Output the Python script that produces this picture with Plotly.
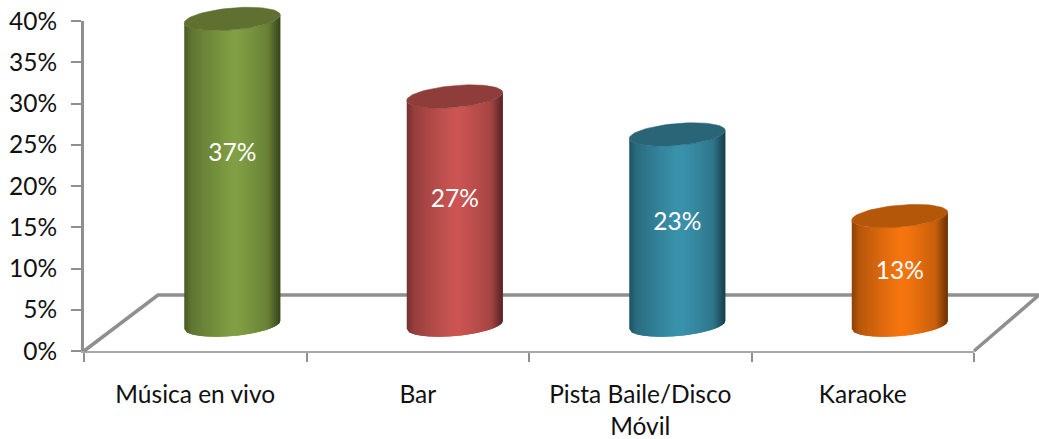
import numpy as np
import plotly.graph_objects as go

# --- data ---
categories = ["Música en vivo", "Bar", "Pista Baile/Disco<br>Móvil", "Karaoke"]
heights = [37.1, 27.7, 23.1, 13.2]
labels = ["37%", "27%", "23%", "13%"]
y_ticks = [0, 5, 10, 15, 20, 25, 30, 35, 40]
colors = [(130, 160, 68), (205, 86, 84), (58, 147, 173), (248, 118, 15)]
top_colors = ["#5f7030", "#8e3d3b", "#2a6577", "#b55708"]

# --- projection of the pseudo 3D look, in axis units ---
W, H = 1039, 439
L, R, T, B = 84, 974, 21, 351
PX_X = (R - L) / 4
PX_Y = (B - T) / 40
DEPTH_X = 37 / PX_X
BASE_Y = 3.15
RADIUS = 48 / PX_X
SEMI = 11 / PX_Y
TILT = 4 / PX_Y
FLOOR_Y = 56 / PX_Y
FLOOR_L = 74 / PX_X
FLOOR_R = 65 / PX_X
STRIPS = 48
GRAY = "#8f8f8f"
FONT = 24.5

fig = go.Figure()

# main axes, with one invisible trace so that they are drawn
fig.add_trace(go.Scatter(x=[0], y=[0], mode="none", hoverinfo="skip", showlegend=False))

OV = dict(xaxis="x2", yaxis="y2", hoverinfo="skip", showlegend=False)

# floor
fig.add_trace(go.Scatter(
    x=[-0.5, -0.5 + FLOOR_L, 3.5 + FLOOR_R, 3.5], y=[0, FLOOR_Y, FLOOR_Y, 0],
    mode="lines", line=dict(color=GRAY, width=3.5), **OV))


def shade(rgb, u):
    d = abs(u - 0.05)
    f = 1 - 0.30 * d ** 1.2
    if u > 0.75:
        f -= 0.30 * (u - 0.75) / 0.25
    if u < -0.85:
        f -= 0.12 * (-u - 0.85) / 0.15
    return "rgb(%d,%d,%d)" % tuple(int(c * f) for c in rgb)


edges = np.linspace(-1, 1, STRIPS + 1)
step = edges[1] - edges[0]
for i, h in enumerate(heights):
    cx = i + DEPTH_X
    for k, (a, b) in enumerate(zip(edges[:-1], edges[1:])):
        # each strip runs under the next one, which hides the seams
        end = min(1.0, b + step)
        us = np.linspace(a, end, 4)
        front = SEMI * np.sqrt(np.clip(1 - us ** 2, 0, 1))
        low = BASE_Y + TILT * us - front
        up = BASE_Y + h + TILT * us - front
        col = shade(colors[i], (a + b) / 2)
        xs = cx + us * RADIUS
        fig.add_trace(go.Scatter(
            x=np.concatenate([xs, xs[::-1], xs[:1]]),
            y=np.concatenate([low, up[::-1], low[:1]]),
            mode="lines", fill="toself", fillcolor=col, line=dict(color=col, width=0), **OV))
    t = np.linspace(0, 2 * np.pi, 80)
    fig.add_trace(go.Scatter(
        x=cx + RADIUS * np.cos(t),
        y=BASE_Y + h + TILT * np.cos(t) + SEMI * np.sin(t),
        mode="lines", fill="toself", fillcolor=top_colors[i],
        line=dict(color=top_colors[i], width=0.5), **OV))

fig.add_trace(go.Scatter(
    x=[i + DEPTH_X for i in range(len(heights))],
    y=[0.596 * h + 1.66 for h in heights],
    text=labels, mode="text", textposition="middle center",
    textfont=dict(family="Lato", size=FONT, color="white"), **OV))

fig.update_layout(
    width=W, height=H,
    margin=dict(l=0, r=0, t=0, b=0),
    paper_bgcolor="white", plot_bgcolor="rgba(0,0,0,0)", showlegend=False,
    font=dict(family="Lato", size=FONT, color="#111111"),
    xaxis=dict(
        domain=[L / W, R / W], anchor="y", automargin=False,
        range=[-0.5, 3.5], tickmode="array", tickvals=list(range(len(categories))),
        ticktext=categories, ticks="", showgrid=False, zeroline=False,
        showline=True, linecolor="#a8a8a8", linewidth=2, ticklabelstandoff=21,
        minor=dict(tickmode="array", tickvals=[-0.5, 0.5, 1.5, 2.5, 3.5], ticks="outside",
                   ticklen=9, tickwidth=2, tickcolor=GRAY, showgrid=False)),
    yaxis=dict(
        domain=[1 - B / H, 1 - T / H], anchor="x", automargin=False,
        range=[0, 40], tickmode="array", tickvals=y_ticks,
        ticktext=[f"{v}%" for v in y_ticks], ticks="outside", ticklen=10, tickwidth=2,
        ticklabelstandoff=9,
        tickcolor=GRAY, showgrid=False, zeroline=False, showline=True,
        linecolor=GRAY, linewidth=3),
    xaxis2=dict(
        domain=[0, 1], anchor="y2", visible=False, automargin=False,
        range=[-0.5 - L / PX_X, 3.5 + (W - R) / PX_X]),
    yaxis2=dict(
        domain=[0, 1], anchor="x2", visible=False, automargin=False,
        range=[-(H - B) / PX_Y, 40 + T / PX_Y]),
)

fig.write_html("out.html", config={"displayModeBar": False},
               post_script="document.body.style.margin='0';")
